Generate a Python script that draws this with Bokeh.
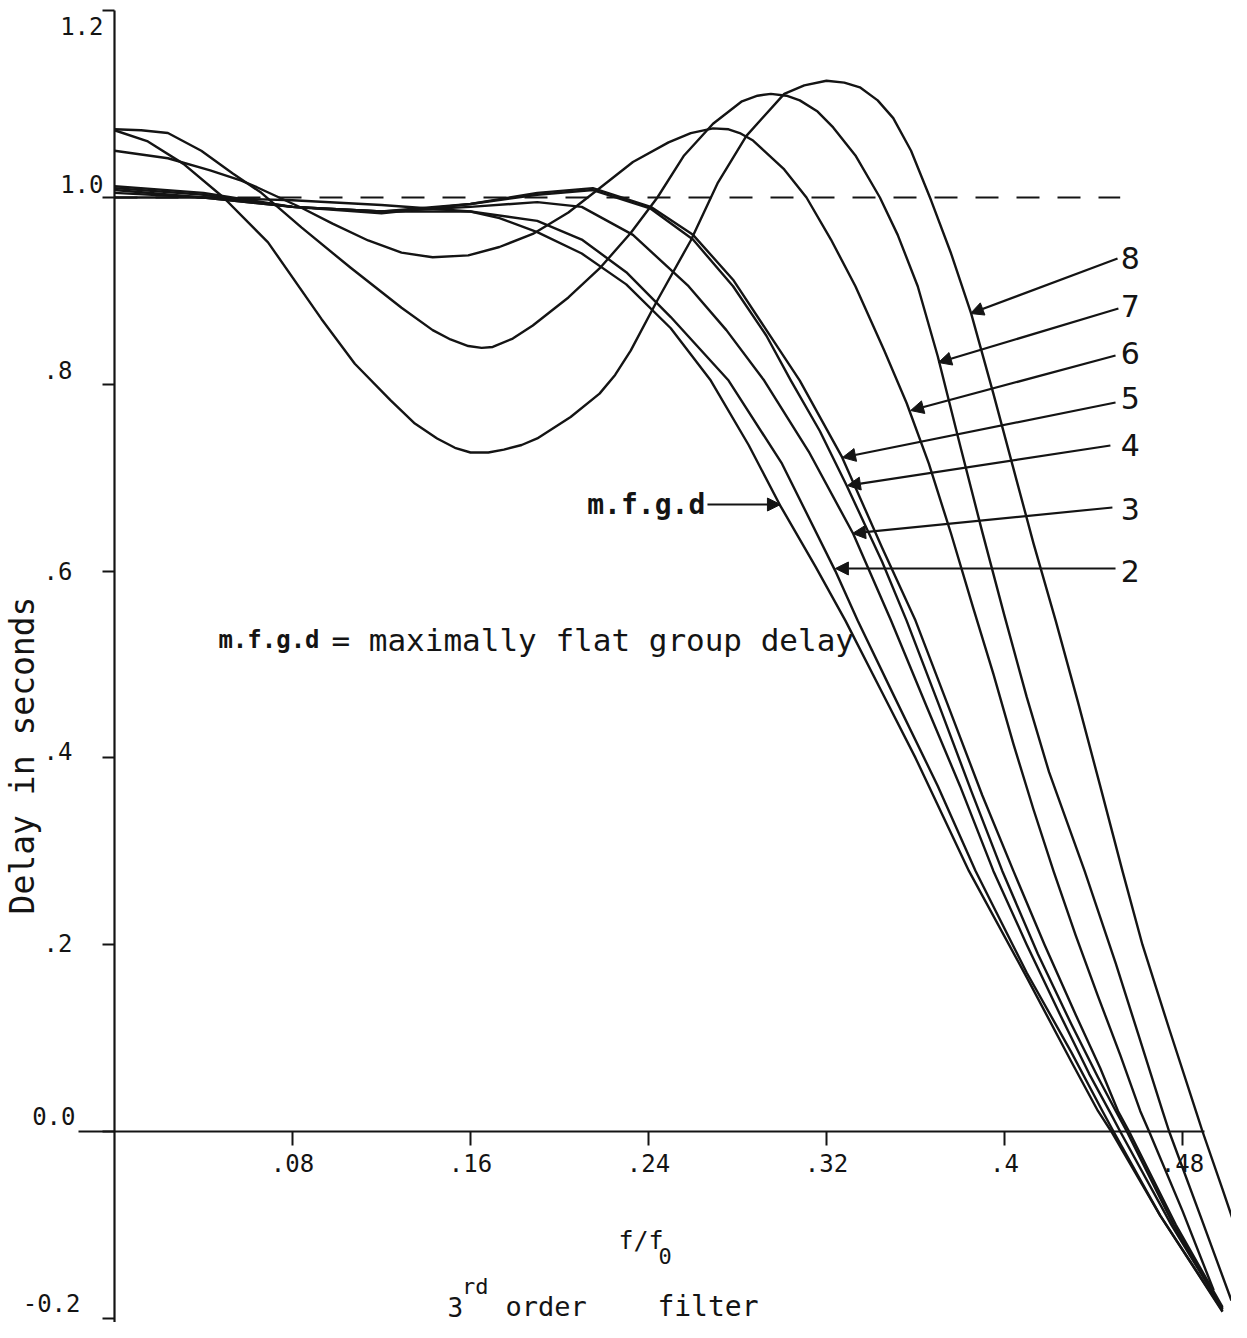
import math
from bokeh.plotting import figure
from bokeh.models import Range1d, LinearAxis, FixedTicker, Arrow, NormalHead, ColumnDataSource
from bokeh.core.properties import value
from bokeh.embed import file_html
from bokeh.resources import INLINE

# ---------------- data ----------------
x_ticks = [0.08, 0.16, 0.24, 0.32, 0.4, 0.48]
x_tick_labels = [".08", ".16", ".24", ".32", ".4", ".48"]
y_ticks = [-0.2, 0.0, 0.2, 0.4, 0.6, 0.8, 1.0, 1.2]
y_tick_labels = ["-0.2", "0.0", ".2", ".4", ".6", ".8", "1.0", "1.2"]

mfgd_x = [0, 0.04, 0.08, 0.12, 0.16, 0.173, 0.19, 0.21, 0.23, 0.25, 0.268, 0.285, 0.299, 0.315,
          0.3285, 0.345, 0.36, 0.384, 0.41, 0.43, 0.442, 0.448, 0.47, 0.498]
mfgd_y = [1.0, 1.0, 0.997, 0.992, 0.985, 0.978, 0.963, 0.94, 0.907, 0.86, 0.804, 0.735, 0.671, 0.605,
          0.547, 0.47, 0.40, 0.279, 0.165, 0.075, 0.022, 0.0, -0.09, -0.193]

c2_x = [0, 0.04, 0.08, 0.12, 0.16, 0.19, 0.21, 0.23, 0.25, 0.276, 0.3, 0.324, 0.334, 0.35, 0.37,
        0.387, 0.41, 0.43, 0.444, 0.449, 0.47, 0.498]
c2_y = [1.005, 1.0, 0.99, 0.985, 0.985, 0.975, 0.955, 0.92, 0.872, 0.804, 0.715, 0.6, 0.547, 0.468, 0.37,
        0.279, 0.17, 0.085, 0.022, 0.0, -0.09, -0.192]

c3_x = [0, 0.04, 0.08, 0.12, 0.16, 0.19, 0.21, 0.233, 0.258, 0.275, 0.292, 0.312, 0.332, 0.349, 0.365,
        0.38, 0.395, 0.41, 0.425, 0.438, 0.448, 0.452, 0.475, 0.498]
c3_y = [1.008, 1.0, 0.99, 0.985, 0.99, 0.995, 0.99, 0.96, 0.905, 0.858, 0.804, 0.728, 0.64, 0.547, 0.455,
        0.37, 0.279, 0.2, 0.125, 0.062, 0.018, 0.0, -0.1, -0.19]

c4_x = [0, 0.04, 0.08, 0.12, 0.16, 0.19, 0.215, 0.241, 0.26, 0.278, 0.293, 0.304, 0.317, 0.329, 0.345,
        0.356, 0.37, 0.385, 0.399, 0.415, 0.43, 0.442, 0.45, 0.455, 0.476, 0.498]
c4_y = [1.01, 1.003, 0.99, 0.985, 0.993, 1.003, 1.008, 0.988, 0.955, 0.905, 0.852, 0.804, 0.75, 0.692, 0.61,
        0.547, 0.46, 0.365, 0.279, 0.19, 0.115, 0.058, 0.022, 0.0, -0.1, -0.19]

c5_x = [0, 0.04, 0.08, 0.12, 0.16, 0.19, 0.215, 0.241, 0.26, 0.278, 0.293, 0.308, 0.327, 0.345, 0.36,
        0.374, 0.39, 0.404, 0.418, 0.432, 0.443, 0.451, 0.456, 0.477, 0.498]
c5_y = [1.012, 1.005, 0.99, 0.983, 0.993, 1.005, 1.01, 0.99, 0.96, 0.912, 0.858, 0.804, 0.722, 0.625, 0.547,
        0.46, 0.36, 0.279, 0.2, 0.125, 0.068, 0.022, 0.0, -0.1, -0.188]

c6_x = [0, 0.024, 0.043, 0.057, 0.064, 0.084, 0.098, 0.114, 0.129, 0.143, 0.159, 0.173, 0.188, 0.204,
        0.217, 0.233, 0.249, 0.259, 0.269, 0.276, 0.281, 0.287, 0.292, 0.301, 0.311, 0.322, 0.333, 0.346,
        0.356, 0.366, 0.376, 0.386, 0.395, 0.404, 0.413, 0.422, 0.432, 0.442, 0.452, 0.461, 0.465, 0.48,
        0.494]
c6_y = [1.05, 1.042, 1.029, 1.018, 1.011, 0.989, 0.972, 0.954, 0.941, 0.936, 0.938, 0.947, 0.961, 0.984,
        1.008, 1.038, 1.059, 1.069, 1.074, 1.073, 1.069, 1.061, 1.05, 1.03, 1.0, 0.955, 0.905, 0.836,
        0.78, 0.715, 0.64, 0.56, 0.49, 0.415, 0.345, 0.279, 0.21, 0.145, 0.082, 0.022, 0.0, -0.085,
        -0.17]

c7_x = [0, 0.012, 0.024, 0.039, 0.053, 0.066, 0.084, 0.106, 0.129, 0.143, 0.151, 0.159, 0.165, 0.17,
        0.179, 0.188, 0.204, 0.218, 0.232, 0.244, 0.256, 0.269, 0.282, 0.289, 0.295, 0.302, 0.308, 0.316,
        0.323, 0.333, 0.344, 0.352, 0.361, 0.37, 0.38, 0.39, 0.4, 0.41, 0.42, 0.436, 0.45, 0.46, 0.471,
        0.474, 0.488, 0.502]
c7_y = [1.073, 1.072, 1.069, 1.05, 1.026, 1.005, 0.968, 0.925, 0.882, 0.858, 0.848, 0.841, 0.839, 0.84,
        0.849, 0.863, 0.893, 0.924, 0.962, 1.0, 1.045, 1.079, 1.103, 1.109, 1.111, 1.109, 1.104, 1.092,
        1.075, 1.045, 1.0, 0.96, 0.905, 0.83, 0.735, 0.642, 0.552, 0.465, 0.385, 0.279, 0.18, 0.105,
        0.022, 0.0, -0.09, -0.181]

c8_x = [0, 0.015, 0.031, 0.049, 0.069, 0.093, 0.108, 0.124, 0.135, 0.145, 0.153, 0.16, 0.168, 0.175,
        0.183, 0.19, 0.205, 0.218, 0.225, 0.232, 0.244, 0.259, 0.271, 0.284, 0.301, 0.31, 0.32, 0.328,
        0.335, 0.343, 0.35, 0.358, 0.367, 0.376, 0.385, 0.395, 0.404, 0.413, 0.423, 0.433, 0.443,
        0.453, 0.462, 0.474, 0.486, 0.489, 0.498, 0.507]
c8_y = [1.072, 1.06, 1.036, 1.0, 0.952, 0.87, 0.822, 0.783, 0.758, 0.742, 0.732, 0.727, 0.727, 0.73,
        0.735, 0.742, 0.765, 0.79, 0.81, 0.836, 0.89, 0.954, 1.015, 1.066, 1.111, 1.12, 1.125, 1.123,
        1.118, 1.104, 1.085, 1.05, 0.997, 0.94, 0.876, 0.79, 0.71, 0.63, 0.547, 0.46, 0.37,
        0.279, 0.2, 0.11, 0.022, 0.0, -0.062, -0.125]

ref_x = [0.0, 0.452]
ref_y = [1.0, 1.0]

curve_names = ["2", "3", "4", "5", "6", "7", "8"]
# arrow tails / tips for the numbered labels (data coords) and the m.f.g.d pointer
arrow_tail_x = [0.4499, 0.4485, 0.4476, 0.4499, 0.4499, 0.4512, 0.4508, 0.2665]
arrow_tail_y = [0.6028, 0.6681, 0.7345, 0.7805, 0.8308, 0.8812, 0.9347, 0.6713]
arrow_tip_x = [0.3240, 0.3317, 0.3294, 0.3272, 0.3578, 0.3703, 0.3847, 0.2993]
arrow_tip_y = [0.6028, 0.6403, 0.6916, 0.7216, 0.7719, 0.8233, 0.8758, 0.6713]
num_label_y = [0.6006, 0.667, 0.7345, 0.785, 0.834, 0.884, 0.9347]

# typed tick-label placement (screen px offsets from each tick, as in the typed original)
y_label_dx = [-34, -39, -42, -42, -42, -42, -11, -11]
y_label_dy = [-15, -16, -2, -7, 0, -14, -14, 15]

# ---------------- figure ----------------
W, H = 1231, 1322
X_MIN = -114 / 2225
X_MAX = X_MIN + W / 2225
Y_MAX = 1131 / 934
Y_MIN = Y_MAX - H / 934

p = figure(width=W, height=H, x_range=Range1d(X_MIN, X_MAX), y_range=Range1d(Y_MIN, Y_MAX),
           x_axis_type=None, y_axis_type=None, output_backend="svg", toolbar_location=None,
           min_border=0)
p.outline_line_color = None
p.background_fill_color = "white"
p.border_fill_color = "white"

INK = "#141414"
MONO_NAME = "DejaVu Sans Mono"
MONO = value(MONO_NAME)

xaxis = LinearAxis(fixed_location=0, ticker=FixedTicker(ticks=x_ticks), bounds=(-0.016, 0.49),
                   major_label_overrides={t: l for t, l in zip(x_ticks, x_tick_labels)})
xaxis.axis_line_width = 2.2
xaxis.axis_line_color = INK
xaxis.major_tick_line_color = INK
xaxis.major_tick_line_width = 2
xaxis.major_tick_out = 14
xaxis.major_tick_in = 0
xaxis.minor_tick_line_color = None
xaxis.major_label_text_font = MONO_NAME
xaxis.major_label_text_font_size = "24px"
xaxis.major_label_text_color = INK
xaxis.major_label_standoff = 8
p.add_layout(xaxis, "below")

yaxis = LinearAxis(fixed_location=0, ticker=FixedTicker(ticks=y_ticks), bounds=(Y_MIN, 1.2),
                   major_label_overrides={t: "" for t in y_ticks})
yaxis.axis_line_width = 2.2
yaxis.axis_line_color = INK
yaxis.major_tick_line_color = INK
yaxis.major_tick_line_width = 2
yaxis.major_tick_out = 12
yaxis.major_tick_in = 0
yaxis.minor_tick_line_color = None
p.add_layout(yaxis, "left")

# y tick labels, placed like the typed ones
p.text(x=[0.0] * len(y_ticks), y=y_ticks, text=y_tick_labels, x_offset=y_label_dx,
       y_offset=y_label_dy, text_font=MONO, text_font_size="24px", text_color=INK,
       text_align="right", text_baseline="middle")

# reference dashed line at 1.0
p.line(ref_x, ref_y, line_color=INK, line_width=2.2, line_dash="23 18")

for xs, ys in [(mfgd_x, mfgd_y), (c2_x, c2_y), (c3_x, c3_y), (c4_x, c4_y), (c5_x, c5_y),
               (c6_x, c6_y), (c7_x, c7_y), (c8_x, c8_y)]:
    p.line(xs, ys, line_color=INK, line_width=2.4, line_join="round")

arrows = ColumnDataSource(dict(x0=arrow_tail_x, y0=arrow_tail_y, x1=arrow_tip_x, y1=arrow_tip_y))
p.add_layout(Arrow(source=arrows, x_start="x0", y_start="y0", x_end="x1", y_end="y1",
                   line_color=INK, line_width=2.2,
                   end=NormalHead(size=13, fill_color=INK, line_color=INK)))

# curve numbers
p.text(x=[0.4522] * len(curve_names), y=num_label_y, text=curve_names,
       text_font=value("DejaVu Sans"), text_font_size="30px", text_color=INK,
       text_align="left", text_baseline="middle")

# m.f.g.d pointer label
p.text(x=[0.2655], y=[0.6713], text=["m.f.g.d"], text_font=MONO, text_font_style="bold",
       text_font_size="28px", text_color=INK, text_align="right", text_baseline="middle")

# legend note
p.text(x=[0.0467], y=[0.5257], text=["m.f.g.d"], text_font=MONO, text_font_style="bold",
       text_font_size="24px", text_color=INK, text_align="left", text_baseline="middle")
p.text(x=[0.0975], y=[0.5257], text=["= maximally flat group delay"], text_font=MONO,
       text_font_size="31px", text_color=INK, text_align="left", text_baseline="middle")

# y axis title
p.text(x=[-0.0413], y=[0.4026], text=["Delay in seconds"], angle=math.pi / 2, text_font=MONO,
       text_font_size="33px", text_color=INK, text_align="center", text_baseline="middle")

# x axis title f/f0
p.text(x=[0.2265], y=[-0.1167], text=["f/f"], text_font=MONO, text_font_size="25px",
       text_color=INK, text_align="left", text_baseline="middle")
p.text(x=[0.2445], y=[-0.1338], text=["0"], text_font=MONO, text_font_size="22px",
       text_color=INK, text_align="left", text_baseline="middle")

# caption 3rd order filter
p.text(x=[0.1497], y=[-0.1874], text=["3"], text_font=MONO, text_font_size="26px",
       text_color=INK, text_align="left", text_baseline="middle")
p.text(x=[0.1562], y=[-0.166], text=["rd"], text_font=MONO, text_font_size="22px",
       text_color=INK, text_align="left", text_baseline="middle")
p.text(x=[0.1757], y=[-0.1874], text=["order"], text_font=MONO, text_font_size="27px",
       text_color=INK, text_align="left", text_baseline="middle")
p.text(x=[0.2440], y=[-0.1874], text=["filter"], text_font=MONO, text_font_size="28px",
       text_color=INK, text_align="left", text_baseline="middle")

open("out.html", "w").write(file_html(p, INLINE))
